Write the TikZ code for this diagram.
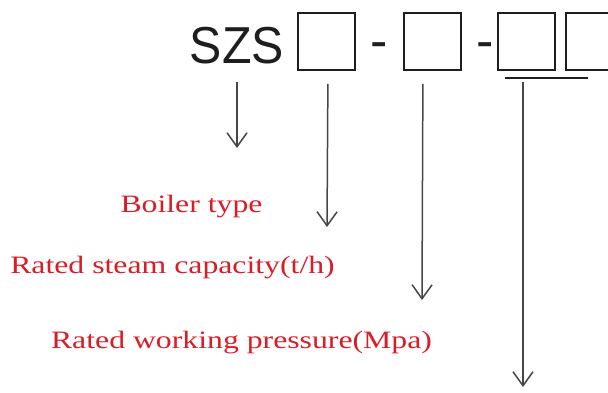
\documentclass[tikz,border=0pt]{standalone}
\usepackage{graphicx}
\usepackage{fontspec}
\setmainfont{Liberation Serif}
\newfontfamily\sansf{Liberation Sans}
\usetikzlibrary{arrows.meta}
\definecolor{lblred}{RGB}{218,28,38}
\definecolor{arrgray}{RGB}{70,70,70}
\definecolor{boxblack}{RGB}{30,30,30}
\begin{document}
\begin{tikzpicture}[x=1pt,y=-1pt,
  codebox/.style={draw=boxblack,line width=1.8pt,minimum width=57pt,minimum height=57pt,inner sep=0pt,anchor=north west},
  arr/.style={draw=arrgray,line width=1.5pt,-{Straight Barb[length=14pt,width=20pt,line width=1.5pt]}},
  lbl/.style={text=lblred,inner sep=0pt,anchor=base,font=\fontsize{25}{30}\selectfont},
  code/.style={text=boxblack,inner sep=0pt,anchor=base,font=\sansf\fontsize{52}{60}\selectfont}]
\clip (0,0) rectangle (608,392);
% code line
\node[code] (szs) at (237,63) {\scalebox{0.93}[1]{SZS}};
\node[codebox] (b1) at (297,12) {};
\node[code] (d1) at (379.5,58) {-};
\node[codebox] (b2) at (403,12) {};
\node[code] (d2) at (485.5,58) {-};
\node[codebox] (b3) at (497,12) {};
\node[codebox] (b4) at (565,12) {};
\coordinate (ul1) at (505,78);
\coordinate (ul2) at (588,78);
\draw[boxblack,line width=1.5pt] (ul1) -- (ul2);
% arrow ends
\coordinate (e1) at (237,148);
\coordinate (e2) at (327,227);
\coordinate (e3) at (422,300);
\coordinate (e4) at (523,387);
\draw[arr] ([shift={(0,19)}]szs.base) -- (e1);
\draw[arr] ([shift={(1.5,13)}]b1.south) -- (e2);
\draw[arr] ([shift={(-9.5,13)}]b2.south) -- (e3);
\draw[arr] ([shift={(18,4)}]ul1) -- (e4);
% labels
\node[lbl] (l1) at (191.5,212) {\scalebox{1.27}[1]{Boiler type}};
\node[lbl] (l2) at (172.5,273) {\scalebox{1.27}[1]{Rated steam capacity(t/h)}};
\node[lbl] (l3) at (241.5,348) {\scalebox{1.27}[1]{Rated working pressure(Mpa)}};
\end{tikzpicture}
\end{document}
